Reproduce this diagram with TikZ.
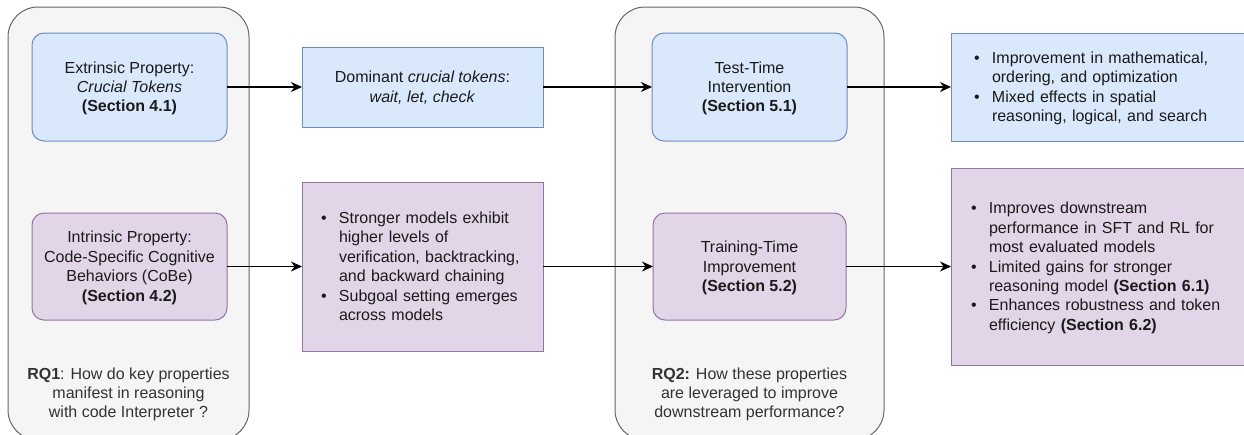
\documentclass[tikz,border=0pt]{standalone}
\usepackage{fontspec}
\setmainfont{Liberation Sans}
\usetikzlibrary{arrows.meta}
\definecolor{bfill}{HTML}{DAE8FC}
\definecolor{bline}{HTML}{6C8EBF}
\definecolor{pfill}{HTML}{E1D5E7}
\definecolor{pline}{HTML}{9673A6}
\definecolor{cfill}{HTML}{F5F5F5}
\definecolor{cline}{HTML}{666666}
\definecolor{rqtext}{HTML}{333333}
\definecolor{btext}{HTML}{1A1A1A}
\newcommand\bu{\makebox[18pt][l]{\textbullet}}
\newcommand\ind{\hspace*{18pt}}
\newcommand\hs{\rule[-4.2pt]{0pt}{19.4pt}}
\begin{document}
\begin{tikzpicture}[x=1pt,y=-1pt,
  every node/.style={font=\fontsize{16}{19.4}\selectfont, inner sep=0pt, outer sep=0pt, text=btext},
  container/.style={draw=cline, fill=cfill, line width=1pt, rounded corners=30pt},
  bluebox/.style={draw=bline, fill=bfill, line width=1pt},
  purplebox/.style={draw=pline, fill=pfill, line width=1pt},
  ctext/.style={align=center},
  rbox/.style={rounded corners=12pt},
  rqlabel/.style={align=center, text=rqtext},
  arr/.style={-{Stealth[length=11pt,width=10pt,inset=3.5pt]}, line width=1.2pt},
]
\useasboundingbox (0,0) rectangle (1244,434);
% containers
\node[container, minimum width=241pt, minimum height=433pt] (c1) at (128.5,223.5) {};
\node[container, minimum width=269pt, minimum height=433pt] (c2) at (749.5,223.5) {};
\node[rqlabel] (rq1) at (128.5,393) {\hs\textbf{RQ1}: How do key properties\\manifest in reasoning\\with code Interpreter ?\hs};
\node[rqlabel] (rq2) at (749.5,393) {\hs\textbf{RQ2:} How these properties\\are leveraged to improve\\downstream performance?\hs};
% left column
\node[bluebox, rbox, ctext, minimum width=195pt, minimum height=108pt] (ext) at (129.5,87) {\hs Extrinsic Property:\\\textit{Crucial Tokens}\\\textbf{(Section 4.1)}\hs};
\node[purplebox, rbox, ctext, minimum width=195pt, minimum height=107pt] (int) at (129.5,266.5) {\hs Intrinsic Property:\\Code-Specific Cognitive\\Behaviors (CoBe)\\\textbf{(Section 4.2)}\hs};
% middle column
\node[bluebox, ctext, minimum width=241pt, minimum height=80pt] (dom) at (422.5,87) {\hs Dominant \textit{crucial tokens}:\\\textit{wait, let, check}\hs};
\node[purplebox, align=left, inner xsep=19pt, text width=203pt, minimum height=169pt] (cobe) at (422.5,266.5) {\hs\bu Stronger models exhibit\\\ind higher levels of\\\ind verification, backtracking,\\\ind and backward chaining\\\bu Subgoal setting emerges\\\ind across models\hs};
% RQ2 column
\node[bluebox, rbox, ctext, minimum width=195pt, minimum height=108pt] (tt) at (749.5,87) {\hs Test-Time\\Intervention\\\textbf{(Section 5.1)}\hs};
\node[purplebox, rbox, ctext, minimum width=193pt, minimum height=107pt] (tr) at (749.5,266.5) {\hs Training-Time\\Improvement\\\textbf{(Section 5.2)}\hs};
% results column
\node[bluebox, align=left, inner xsep=23pt, text width=249pt, minimum height=108pt] (res1) at (1098.5,87) {\hs\bu Improvement in mathematical,\\\ind ordering, and optimization\\\bu Mixed effects in spatial\\\ind reasoning, logical, and search\hs};
\node[purplebox, align=left, inner xsep=20pt, text width=255pt, minimum height=197pt] (res2) at (1098.5,266.5) {\hs\bu Improves downstream\\\ind performance in SFT and RL for\\\ind most evaluated models\\\bu Limited gains for stronger\\\ind reasoning model \textbf{(Section 6.1)}\\\bu Enhances robustness and token\\\ind efficiency \textbf{(Section 6.2)}\hs};
% connectors
\draw[arr] (ext.east) -- (dom.west);
\draw[arr] (int.east) -- (cobe.west);
\draw[arr] (dom.east) -- (tt.west);
\draw[arr] (cobe.east) -- (tr.west);
\draw[arr] (tt.east) -- (res1.west);
\draw[arr] (tr.east) -- (res2.west);
\end{tikzpicture}
\end{document}
